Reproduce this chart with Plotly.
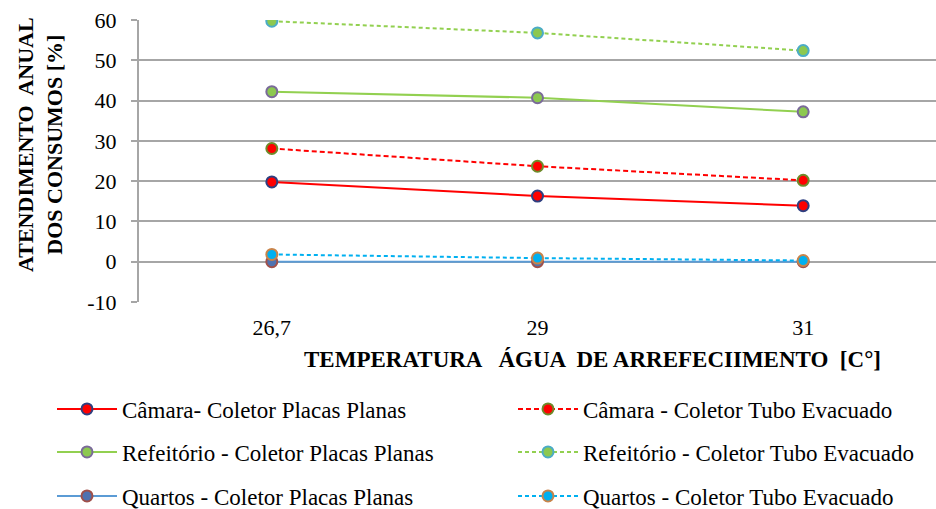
import plotly.graph_objects as go

# Cooling-water temperature categories (x axis)
temperaturas = ["26,7", "29", "31"]

# Annual share of consumption met [%]
camara_placas = [19.8, 16.3, 13.9]
camara_tubo = [28.1, 23.7, 20.2]
refeitorio_placas = [42.2, 40.7, 37.2]
refeitorio_tubo = [59.7, 56.8, 52.4]
quartos_placas = [0.0, 0.0, 0.0]
quartos_tubo = [1.8, 0.9, 0.3]

y_ticks = [-10, 0, 10, 20, 30, 40, 50, 60]

FONT = "Liberation Serif, Times New Roman, serif"

series = [
    ("Câmara- Coletor Placas Planas", camara_placas, "#FF0000", "solid", "#FF0000", "#2E3F80"),
    ("Câmara - Coletor Tubo Evacuado", camara_tubo, "#FF0000", "5px,3px", "#FF0000", "#6E8B2A"),
    ("Refeitório - Coletor Placas Planas", refeitorio_placas, "#92D050", "solid", "#8CC850", "#7A6A9A"),
    ("Refeitório - Coletor Tubo Evacuado", refeitorio_tubo, "#92D050", "4px,3px", "#8CC850", "#4BACC6"),
    ("Quartos - Coletor Placas Planas", quartos_placas, "#5B9BD5", "solid", "#4F72B0", "#A0504A"),
    ("Quartos - Coletor Tubo Evacuado", quartos_tubo, "#00B0F0", "4px,3px", "#00B0F0", "#C8844A"),
]

W, H = 936, 509
L, R, T, B = 139, 0, 20, 207
PW, PH = W - L - R, H - T - B

# legend grid: two columns, three rows
col_x = [52, 513]
row_y = [409, 452, 496]

fig = go.Figure()
legends = {}
for i, (name, vals, lcol, dash, mfill, mline) in enumerate(series):
    key = "legend" if i == 0 else f"legend{i + 1}"
    fig.add_trace(go.Scatter(
        x=temperaturas, y=vals, name=name, mode="lines+markers",
        line=dict(color=lcol, width=2, dash=dash),
        marker=dict(size=11, color=mfill, line=dict(color=mline, width=2)),
        legend=key,
    ))
    legends[key] = dict(
        orientation="h", xref="container", yref="container",
        xanchor="left", yanchor="middle",
        x=col_x[i % 2] / W, y=1 - row_y[i // 2] / H,
        font=dict(family=FONT, size=23, color="#000000"),
        itemwidth=60, bgcolor="rgba(0,0,0,0)", borderwidth=0,
    )

fig.update_layout(
    width=W, height=H,
    margin=dict(l=L, r=R, t=T, b=B),
    paper_bgcolor="white", plot_bgcolor="white",
    font=dict(family=FONT, size=21, color="#000000"),
    showlegend=True,
    **legends,
    xaxis=dict(
        type="category", range=[-0.5, 2.5],
        showgrid=False, zeroline=False, showline=False,
        ticks="", tickfont=dict(family=FONT, size=22, color="#000000"),
        ticklabelstandoff=10,
    ),
    yaxis=dict(
        range=[-10, 60], tickvals=y_ticks, ticktext=[str(v) for v in y_ticks],
        showgrid=True, gridcolor="#A6A6A6", gridwidth=2,
        zeroline=False, showline=True, linecolor="#A6A6A6", linewidth=2,
        ticks="outside", ticklen=6, tickcolor="#A6A6A6", tickwidth=2,
        tickfont=dict(family=FONT, size=22, color="#000000"),
        ticklabelstandoff=10,
    ),
    annotations=[
        dict(
            text="<b>ATENDIMENTO  ANUAL<br>DOS CONSUMOS [%]</b>",
            xref="paper", yref="paper",
            x=(40 - L) / PW, y=(H - B - 145) / PH,
            xanchor="center", yanchor="middle", textangle=-90, showarrow=False,
            font=dict(family=FONT, size=22, color="#000000"),
        ),
        dict(
            text="<b>TEMPERATURA   ÁGUA  DE ARREFECIIMENTO  [C°]</b>",
            xref="paper", yref="paper",
            x=(592 - L) / PW, y=(H - B - 359) / PH,
            xanchor="center", yanchor="middle", showarrow=False,
            font=dict(family=FONT, size=23, color="#000000"),
        ),
    ],
)

fig.write_html("out.html")
